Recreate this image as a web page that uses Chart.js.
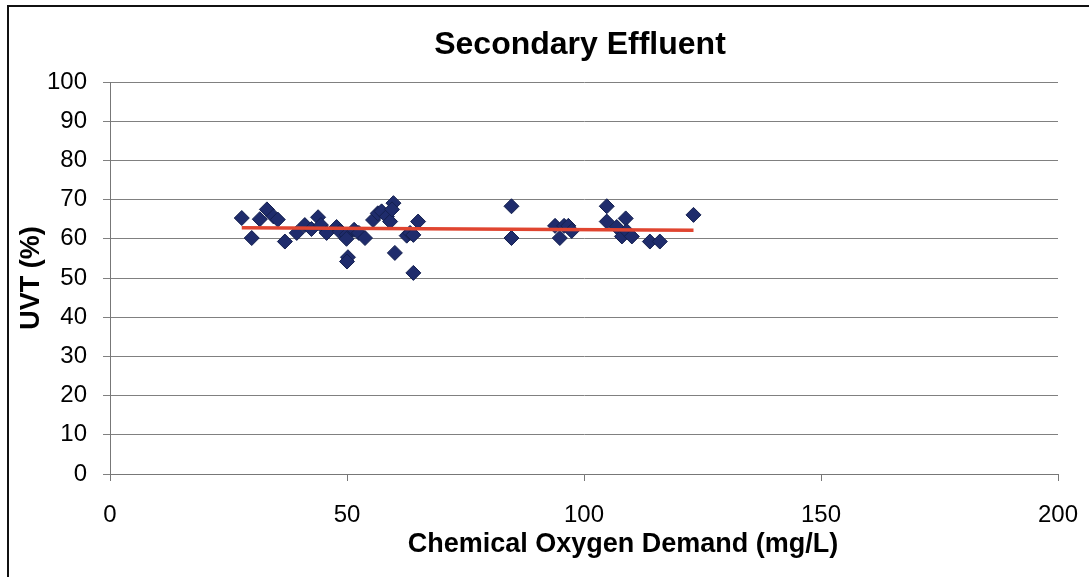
<!DOCTYPE html>
<html>
<head>
<meta charset="utf-8">
<script src="https://cdn.jsdelivr.net/npm/chart.js@4/dist/chart.umd.min.js"></script>
<style>
  html, body { margin: 0; padding: 0; background: #fff; }
  #wrap { width: 1091px; height: 577px; position: relative; }
</style>
</head>
<body>
<div id="wrap"><canvas id="c" width="1091" height="577"></canvas></div>
<script>
// Chemical Oxygen Demand (mg/L)
const codValues = [27.8, 29.9, 31.6, 33.1, 34.5, 35.4, 36.9, 39.4, 41.1, 42.5,
  43.9, 44.5, 45.7, 47.8, 48.5, 49.9, 49.9, 50.2, 50.0, 51.5,
  52.5, 53.8, 55.5, 56.5, 57.3, 58.4, 59.1, 59.8, 59.5, 60.1,
  62.6, 63.3, 64.0, 65.0, 64.0, 84.7, 84.7, 93.9, 94.9, 95.8,
  96.7, 97.4, 104.8, 104.8, 106.9, 108.0, 108.8, 109.0, 110.1, 113.9,
  116.0, 123.1];
// UVT (%)
const uvtValues = [65.3, 60.2, 65.0, 67.5, 65.7, 64.9, 59.3, 61.5, 63.5, 62.5,
  65.5, 63.5, 61.5, 63.0, 61.8, 61.0, 60.0, 55.3, 54.2, 62.3,
  61.5, 60.2, 64.8, 66.5, 67.0, 65.7, 64.4, 69.1, 67.5, 56.4,
  60.8, 61.5, 61.0, 64.4, 51.3, 68.3, 60.2, 63.3, 60.2, 63.3,
  63.3, 62.0, 68.3, 64.4, 63.0, 60.6, 65.2, 62.0, 60.6, 59.3,
  59.3, 66.1];
// Trend line end points
const trendX = [27.8, 123.1];
const trendY = [62.8, 62.2];
const xTicks = [0, 50, 100, 150, 200];
const yTicks = [0, 10, 20, 30, 40, 50, 60, 70, 80, 90, 100];
const titleText = 'Secondary Effluent';
const xTitle = 'Chemical Oxygen Demand (mg/L)';
const yTitle = 'UVT (%)';

const scatterData = codValues.map((x, i) => ({ x: x, y: uvtValues[i] }));
const trendData = trendX.map((x, i) => ({ x: x, y: trendY[i] }));

const FONT = '"Liberation Sans", Arial, sans-serif';

const framePlugin = {
  id: 'frame',
  beforeDraw(chart) {
    const ctx = chart.ctx;
    ctx.save();
    ctx.fillStyle = '#fff';
    ctx.fillRect(0, 0, chart.width, chart.height);
    ctx.strokeStyle = '#111';
    ctx.lineWidth = 2;
    ctx.beginPath();
    ctx.moveTo(8, 577);
    ctx.lineTo(8, 6);
    ctx.lineTo(1089, 6);
    ctx.stroke();
    ctx.restore();
  },
  afterDraw(chart) {
    const ctx = chart.ctx;
    ctx.save();
    ctx.fillStyle = '#000';
    ctx.textAlign = 'center';
    ctx.textBaseline = 'middle';
    ctx.font = 'bold 32px ' + FONT;
    ctx.fillText(titleText, 580, 45);
    ctx.font = 'bold 27px ' + FONT;
    ctx.fillText(xTitle, 623, 545);
    ctx.restore();
  }
};

new Chart(document.getElementById('c'), {
  type: 'scatter',
  data: {
    datasets: [
      {
        label: 'UVT',
        data: scatterData,
        pointStyle: 'rectRot',
        pointRadius: 7.5,
        pointHoverRadius: 7.5,
        backgroundColor: '#1f2c6c',
        borderColor: '#14204f',
        borderWidth: 1,
        order: 2
      },
      {
        label: 'Trend',
        type: 'line',
        data: trendData,
        showLine: true,
        borderColor: '#e04530',
        borderWidth: 3.5,
        pointRadius: 0,
        fill: false,
        order: 1
      }
    ]
  },
  options: {
    responsive: false,
    animation: false,
    events: [],
    layout: { padding: { left: 8, top: 82, right: 33, bottom: 8 } },
    plugins: {
      legend: { display: false },
      tooltip: { enabled: false },
      title: { display: false }
    },
    scales: {
      x: {
        type: 'linear',
        min: 0, max: 200,
        afterBuildTicks(scale) { scale.ticks = xTicks.map(v => ({ value: v })); },
        afterFit(scale) {
          scale.height = 577 - 474 - 8;
          scale.paddingLeft = 0;
          scale.paddingRight = 0;
        },
        grid: {
          drawOnChartArea: false,
          drawTicks: true,
          tickLength: 7,
          color: '#777',
          lineWidth: 1
        },
        border: { display: true, color: '#777', width: 1 },
        ticks: {
          color: '#000',
          font: { family: FONT, size: 24 },
          padding: 20,
          maxRotation: 0
        },
        title: { display: false, text: xTitle }
      },
      y: {
        type: 'linear',
        min: 0, max: 100,
        afterBuildTicks(scale) { scale.ticks = yTicks.map(v => ({ value: v })); },
        afterFit(scale) {
          scale.width = 110 - 8;
          scale.paddingTop = 0;
          scale.paddingBottom = 0;
        },
        grid: {
          drawOnChartArea: true,
          drawTicks: true,
          tickLength: 7,
          color: '#808080',
          lineWidth: 1
        },
        border: { display: true, color: '#777', width: 1 },
        ticks: {
          color: '#000',
          font: { family: FONT, size: 24 },
          padding: 16
        },
        title: {
          display: true,
          text: yTitle,
          color: '#000',
          font: { family: FONT, size: 27, weight: 'bold' },
          padding: { top: 7, bottom: 0 }
        }
      }
    }
  },
  plugins: [framePlugin]
});
</script>
</body>
</html>
